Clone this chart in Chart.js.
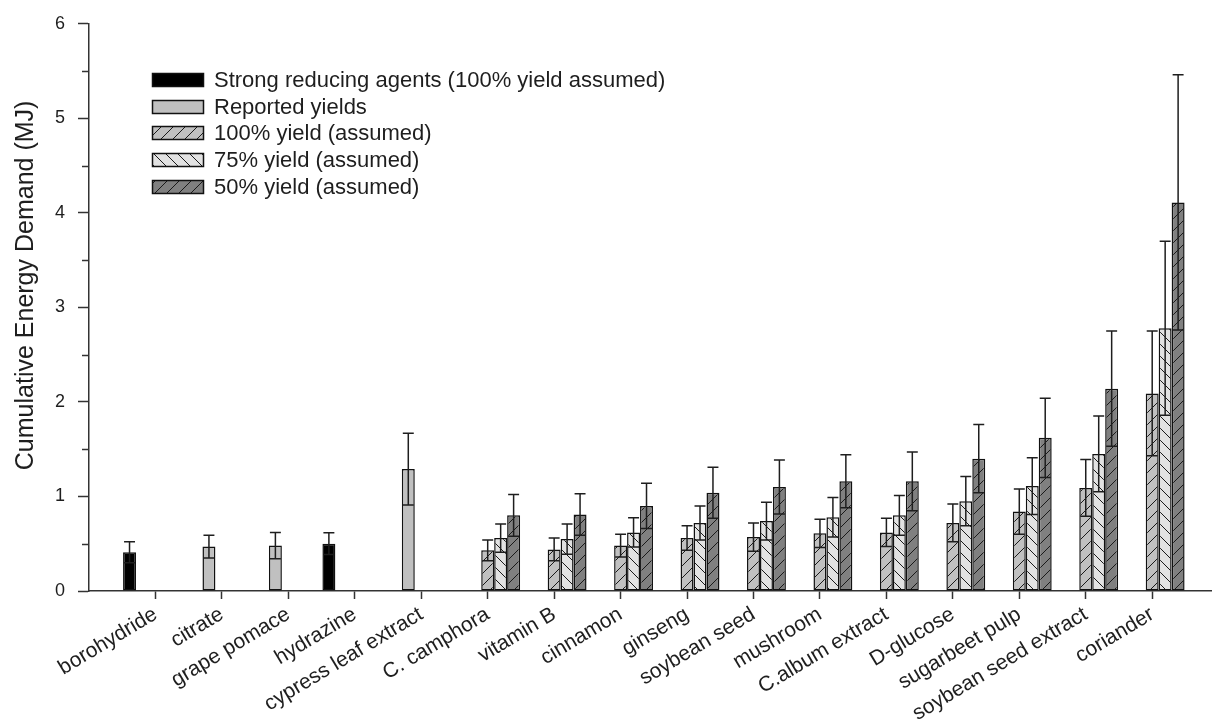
<!DOCTYPE html>
<html>
<head>
<meta charset="utf-8">
<title>Cumulative Energy Demand</title>
<script src="https://cdn.jsdelivr.net/npm/chart.js@4.4.0/dist/chart.umd.min.js"></script>
<style>
  html, body { margin: 0; padding: 0; background: #fff; }
  #wrap { width: 1212px; height: 722px; position: relative; }
</style>
</head>
<body>
<div id="wrap"><canvas id="cedChart"></canvas></div>
<script>
const categories = [
  "borohydride", "citrate", "grape pomace", "hydrazine", "cypress leaf extract",
  "C. camphora", "vitamin B", "cinnamon", "ginseng", "soybean seed", "mushroom",
  "C.album extract", "D-glucose", "sugarbeet pulp", "soybean seed extract", "coriander"
];

const seriesLabels = [
  "Strong reducing agents (100% yield assumed)",
  "Reported yields",
  "100% yield (assumed)",
  "75% yield (assumed)",
  "50% yield (assumed)"
];

const yTitle = "Cumulative Energy Demand (MJ)";

// CED values (MJ) and their errors, one entry per category
const strongValues   = [0.41, null, null, 0.50, null, null, null, null, null, null, null, null, null, null, null, null];
const strongErrors   = [0.11, null, null, 0.115, null, null, null, null, null, null, null, null, null, null, null, null];
const reportedValues = [null, 0.47, 0.48, null, 1.29, null, null, null, null, null, null, null, null, null, null, null];
const reportedErrors = [null, 0.12, 0.14, null, 0.38, null, null, null, null, null, null, null, null, null, null, null];
const yield100Values = [null, null, null, null, null, 0.43, 0.44, 0.48, 0.56, 0.57, 0.61, 0.62, 0.72, 0.84, 1.09, 2.09];
const yield100Errors = [null, null, null, null, null, 0.11, 0.12, 0.12, 0.13, 0.15, 0.15, 0.15, 0.20, 0.24, 0.30, 0.66];
const yield75Values  = [null, null, null, null, null, 0.56, 0.55, 0.62, 0.72, 0.74, 0.78, 0.80, 0.95, 1.11, 1.45, 2.78];
const yield75Errors  = [null, null, null, null, null, 0.15, 0.16, 0.155, 0.18, 0.20, 0.21, 0.21, 0.26, 0.30, 0.40, 0.92];
const yield50Values  = [null, null, null, null, null, 0.80, 0.81, 0.90, 1.04, 1.10, 1.16, 1.16, 1.40, 1.62, 2.14, 4.11];
const yield50Errors  = [null, null, null, null, null, 0.22, 0.22, 0.24, 0.27, 0.285, 0.28, 0.31, 0.36, 0.42, 0.61, 1.35];

const FONT = "'Liberation Sans', Arial, sans-serif";
const INK = "#1e1e1e";

// diagonal hatch fill; dir 1 = "/", dir -1 = "\"
function hatch(fill, dir) {
  const s = 12;
  const c = document.createElement("canvas");
  c.width = s; c.height = s;
  const g = c.getContext("2d");
  g.fillStyle = fill;
  g.fillRect(0, 0, s, s);
  g.strokeStyle = "#1a1a1a";
  g.lineWidth = 1;
  g.beginPath();
  if (dir > 0) {
    g.moveTo(0, s); g.lineTo(s, 0);
    g.moveTo(-2, 2); g.lineTo(2, -2);
    g.moveTo(s - 2, s + 2); g.lineTo(s + 2, s - 2);
  } else {
    g.moveTo(0, 0); g.lineTo(s, s);
    g.moveTo(-2, s - 2); g.lineTo(2, s + 2);
    g.moveTo(s - 2, -2); g.lineTo(s + 2, 2);
  }
  g.stroke();
  return g.createPattern(c, "repeat");
}

function points(values) {
  return values.map((v, i) => ({ x: i + 1, y: v }));
}

function series(label, values, errors, fill) {
  return {
    label: label,
    data: points(values),
    errors: errors,
    backgroundColor: fill,
    borderColor: "#111",
    borderWidth: 1.5,
    borderSkipped: false,
    categoryPercentage: 0.975,
    barPercentage: 1
  };
}

// vertical error bars with caps at both ends
const errorBars = {
  id: "errorBars",
  afterDatasetsDraw(chart) {
    const ctx = chart.ctx;
    const y = chart.scales.y;
    ctx.save();
    ctx.strokeStyle = INK;
    ctx.lineWidth = 1.5;
    chart.data.datasets.forEach((ds, di) => {
      const meta = chart.getDatasetMeta(di);
      meta.data.forEach((bar, i) => {
        const v = ds.data[i].y;
        const e = ds.errors[i];
        if (v == null || e == null) return;
        const top = y.getPixelForValue(v + e);
        const bot = y.getPixelForValue(v - e);
        const half = bar.width / 2 - 1;
        ctx.beginPath();
        ctx.moveTo(bar.x, top); ctx.lineTo(bar.x, bot);
        ctx.moveTo(bar.x - half, top); ctx.lineTo(bar.x + half, top);
        ctx.moveTo(bar.x - half, bot); ctx.lineTo(bar.x + half, bot);
        ctx.stroke();
      });
    });
    ctx.restore();
  }
};

// short ticks at the half units of the y axis
const minorTicks = {
  id: "minorTicks",
  afterDraw(chart) {
    const ctx = chart.ctx;
    const y = chart.scales.y;
    const left = chart.chartArea.left;
    ctx.save();
    ctx.strokeStyle = "#333";
    ctx.lineWidth = 1.5;
    for (let v = 0.5; v < 6; v += 1) {
      const py = Math.round(y.getPixelForValue(v)) + 0.5;
      ctx.beginPath();
      ctx.moveTo(left - 7, py); ctx.lineTo(left, py);
      ctx.stroke();
    }
    ctx.restore();
  }
};

// y axis title, set a little above the middle of the axis
const axisTitle = {
  id: "axisTitle",
  afterDraw(chart) {
    const ctx = chart.ctx;
    const area = chart.chartArea;
    ctx.save();
    ctx.translate(33, (area.top + area.bottom) / 2 - 22);
    ctx.rotate(-Math.PI / 2);
    ctx.font = "25px " + FONT;
    ctx.fillStyle = INK;
    ctx.textAlign = "center";
    ctx.textBaseline = "alphabetic";
    ctx.fillText(yTitle, 0, 0);
    ctx.restore();
  }
};

// legend block in the upper left of the plot
const boxLegend = {
  id: "boxLegend",
  afterDraw(chart) {
    const ctx = chart.ctx;
    const x0 = 152, y0 = 73, rowH = 26.7, boxW = 51, boxH = 13;
    ctx.save();
    ctx.font = "22px " + FONT;
    ctx.textBaseline = "middle";
    chart.data.datasets.forEach((ds, i) => {
      const y = Math.round(y0 + i * rowH);
      ctx.fillStyle = ds.backgroundColor;
      ctx.fillRect(x0, y, boxW, boxH);
      ctx.strokeStyle = "#111";
      ctx.lineWidth = 1.5;
      ctx.strokeRect(x0 + 0.5, y + 0.5, boxW, boxH);
      ctx.fillStyle = INK;
      ctx.fillText(ds.label, 214, y + boxH / 2 + 1);
    });
    ctx.restore();
  }
};

const ctx = document.getElementById("cedChart").getContext("2d");

new Chart(ctx, {
  type: "bar",
  data: {
    datasets: [
      series(seriesLabels[0], strongValues, strongErrors, "#000000"),
      series(seriesLabels[1], reportedValues, reportedErrors, "#c0c0c0"),
      series(seriesLabels[2], yield100Values, yield100Errors, hatch("#c0c0c0", 1)),
      series(seriesLabels[3], yield75Values, yield75Errors, hatch("#e2e2e2", -1)),
      series(seriesLabels[4], yield50Values, yield50Errors, hatch("#808080", 1))
    ]
  },
  options: {
    responsive: true,
    maintainAspectRatio: false,
    animation: false,
    layout: { padding: { top: 23, right: 0, bottom: 0, left: 0 } },
    plugins: {
      legend: { display: false },
      tooltip: { enabled: false }
    },
    scales: {
      x: {
        type: "linear",
        min: 0,
        max: 16.9,
        offset: false,
        afterBuildTicks: (scale) => {
          scale.ticks = categories.map((_, i) => ({ value: i + 1 }));
        },
        afterFit: (scale) => { scale.height = 131; },
        grid: {
          offset: false,
          drawOnChartArea: false,
          tickLength: 8,
          tickColor: "#333",
          tickWidth: 1.5
        },
        border: { color: "#333", width: 1.5 },
        ticks: {
          autoSkip: false,
          minRotation: 31,
          maxRotation: 31,
          padding: 3,
          color: INK,
          font: { family: FONT, size: 21 },
          callback: (value) => categories[Math.round(value) - 1]
        }
      },
      y: {
        min: 0,
        max: 6,
        afterFit: (scale) => { scale.width = 89; },
        grid: {
          drawOnChartArea: false,
          tickLength: 11,
          tickColor: "#333",
          tickWidth: 1.5
        },
        border: { color: "#333", width: 1.5 },
        ticks: {
          stepSize: 1,
          padding: 13,
          color: INK,
          font: { family: FONT, size: 18 }
        }
      }
    }
  },
  plugins: [errorBars, minorTicks, axisTitle, boxLegend]
});
</script>
</body>
</html>
